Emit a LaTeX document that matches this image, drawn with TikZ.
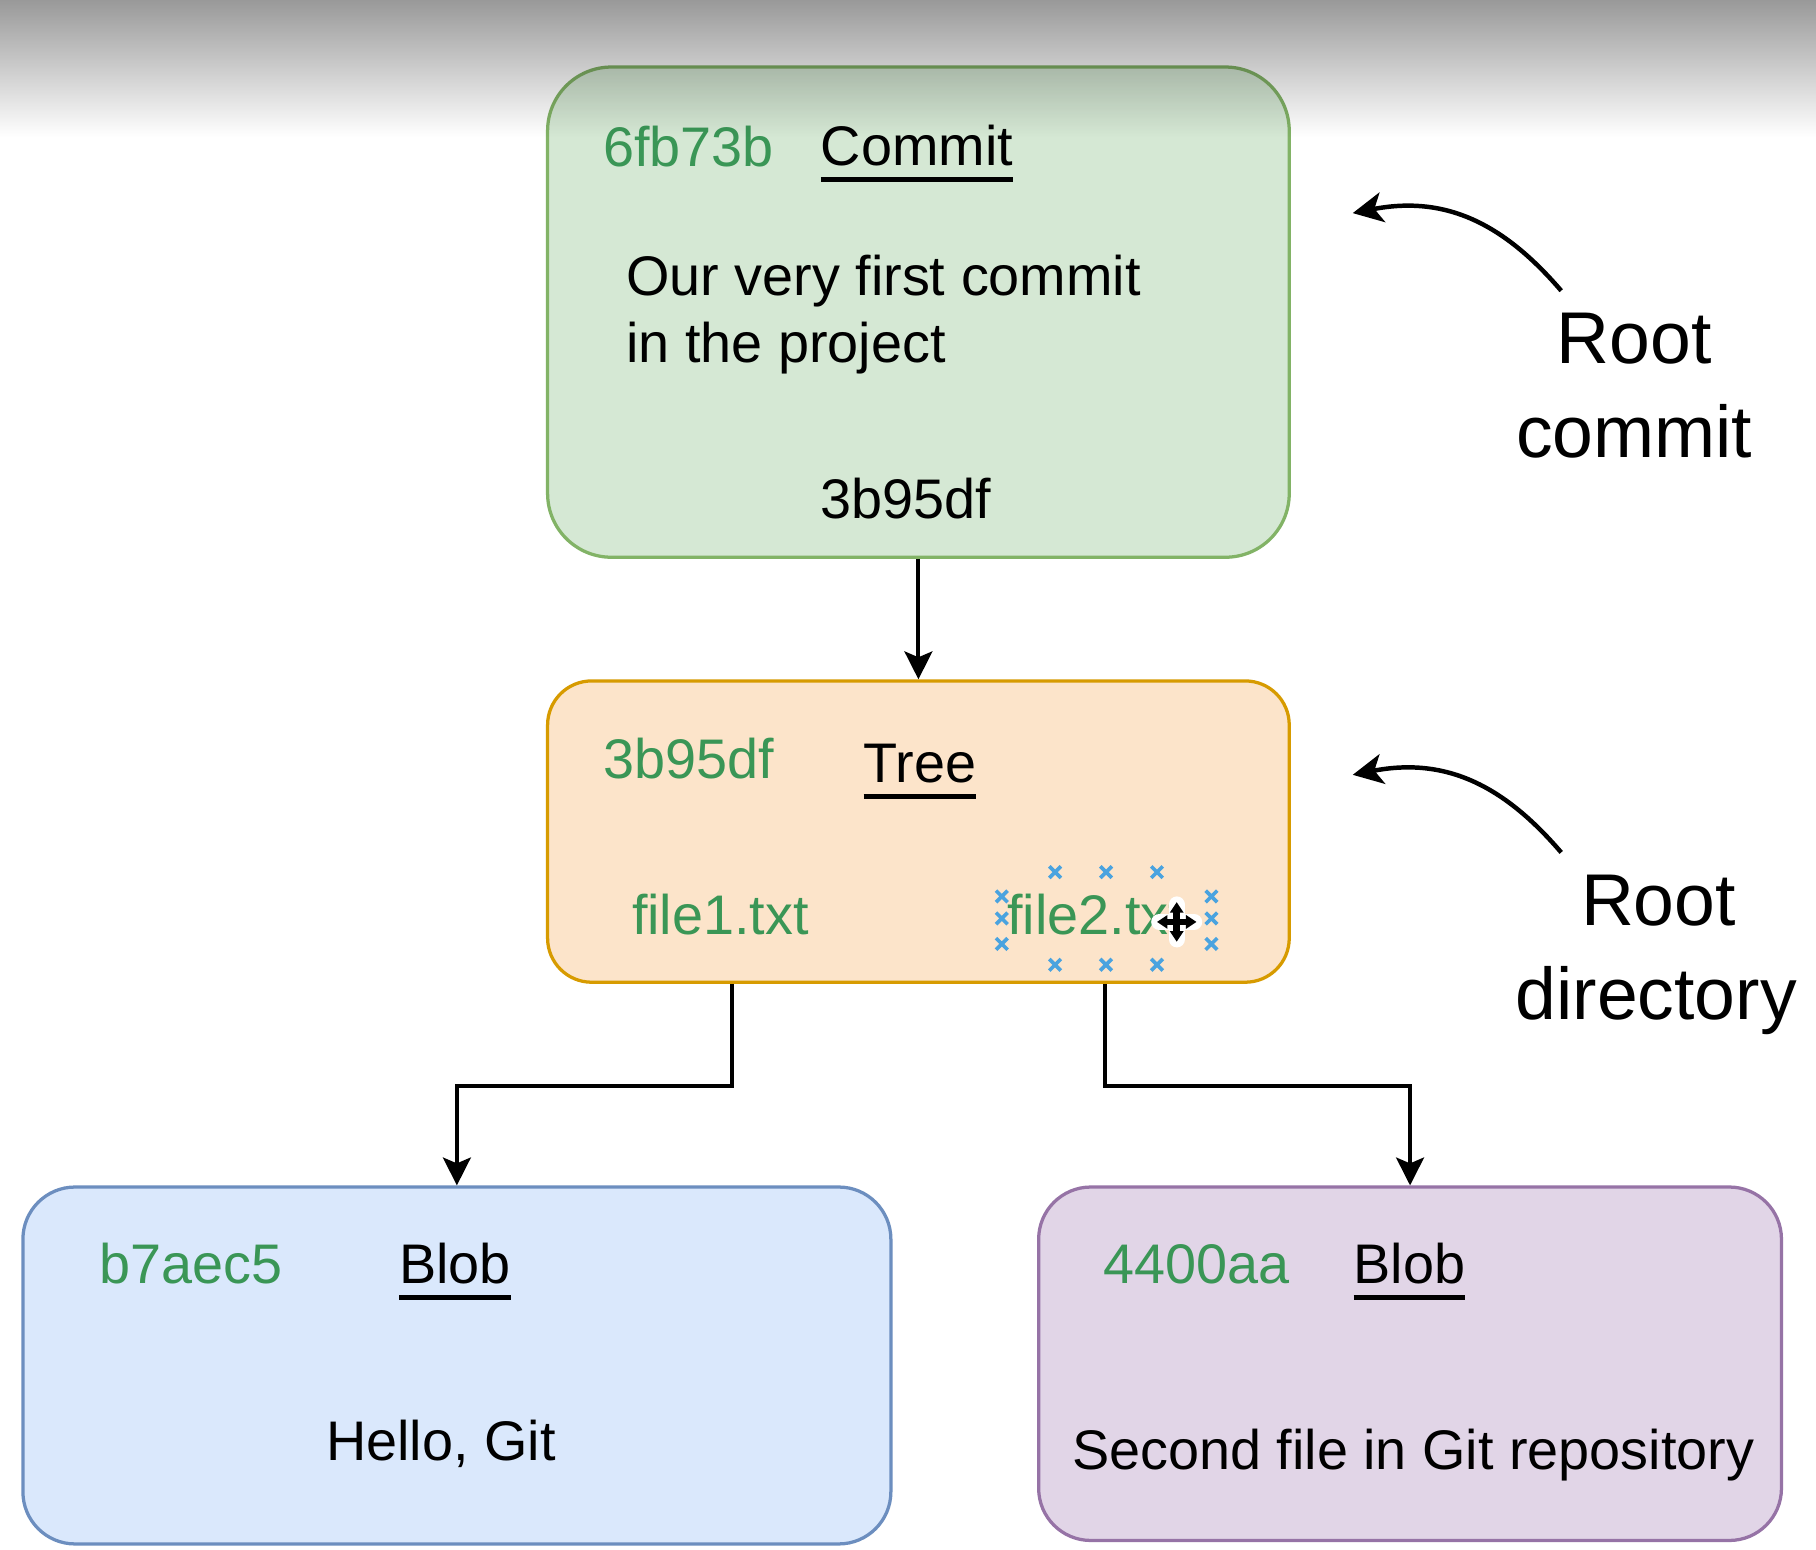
\documentclass[tikz,border=0pt]{standalone}
\usepackage{fontspec}
\setmainfont{Liberation Sans}
\usetikzlibrary{arrows.meta,calc,fadings}

\definecolor{CommitFill}{HTML}{D5E8D4}
\definecolor{CommitLine}{HTML}{82B366}
\definecolor{TreeFill}{HTML}{FCE4CA}
\definecolor{TreeLine}{HTML}{D79B00}
\definecolor{BlobAFill}{HTML}{DAE8FC}
\definecolor{BlobALine}{HTML}{6C8EBF}
\definecolor{BlobBFill}{HTML}{E1D5E7}
\definecolor{BlobBLine}{HTML}{9673A6}
\definecolor{HashGreen}{RGB}{58,150,86}
\definecolor{SelBlue}{RGB}{74,163,223}

\tikzfading[name=screenfade, top color=transparent!0, bottom color=transparent!100]

% underlined kind of object
\newcommand{\KindText}[1]{\setbox0\hbox{#1}\rlap{\rule[-4pt]{\wd0}{1.2pt}}\box0}

\begin{document}
\begin{tikzpicture}[x=0.01cm,y=-0.01cm,
    objbox/.style={draw, line width=0.8pt, inner sep=0pt},
    txt/.style={inner sep=0pt, anchor=base west, font=\fontsize{13.7}{16.5}\selectfont},
    hash/.style={txt, text=HashGreen},
    note/.style={inner sep=0pt, anchor=base, font=\fontsize{18}{23}\selectfont},
    link/.style={line width=1pt, -{Stealth[length=0.24cm,width=0.24cm,inset=0.05cm]}},
    pointer/.style={line width=1.1pt, -{Stealth[length=0.26cm,width=0.26cm,inset=0.07cm]}},
    selmark/.style={SelBlue, line width=0.9pt}]

\useasboundingbox (0,0) rectangle (1568,1338);
\fill[white] (0,0) rectangle (1568,1338);

% objets
\node[objbox, draw=CommitLine, fill=CommitFill, rounded corners=0.55cm,
      minimum width=6.40cm, minimum height=4.23cm] (commit) at (793,269.5) {};
\node[objbox, draw=TreeLine, fill=TreeFill, rounded corners=0.38cm,
      minimum width=6.40cm, minimum height=2.60cm] (tree) at (793,718) {};
\node[objbox, draw=BlobALine, fill=BlobAFill, rounded corners=0.45cm,
      minimum width=7.49cm, minimum height=3.08cm] (blobA) at (394.5,1179) {};
\node[objbox, draw=BlobBLine, fill=BlobBFill, rounded corners=0.45cm,
      minimum width=6.41cm, minimum height=3.05cm] (blobB) at (1217.5,1177.5) {};

% commit
\node[hash] (commitid) at (520,144) {6fb73b};
\node[txt] (commitkind) at (708,143) {\KindText{Commit}};
\node[txt] (msgA) at (540,255) {Our very first commit};
\node[txt] (msgB) at (540,313) {in the project};
\node[txt] (commitref) at (708,448) {3b95df};

% tree
\node[hash] (treeid) at (520,672) {3b95df};
\node[txt] (treekind) at (745,676) {\KindText{Tree}};
\node[hash] (fileA) at (545,807) {file1.txt};
\node[hash] (fileB) at (869,807) {file2.txt};

% blobs
\node[hash] (blobAid) at (85,1108) {b7aec5};
\node[txt] (blobAkind) at (344,1108) {\KindText{Blob}};
\node[txt] (blobAtext) at (281,1261) {Hello, Git};
\node[hash] (blobBid) at (952,1108) {4400aa};
\node[txt] (blobBkind) at (1168,1108) {\KindText{Blob}};
\node[txt] (blobBtext) at (925,1269) {Second file in Git repository};

% liens
\draw[link] (commit.south) -- (tree.north);
\coordinate (outA) at ($(tree.south west)!0.25!(tree.south east)$);
\coordinate (outB) at ($(tree.south west)!0.75!(tree.south east)$);
\draw[link] (outA) -- ++(0,88) -| (blobA.north);
\draw[link] (outB) -- ++(0,88) -| (blobB.north);

% remarques
\node[note] (rootA) at (1411,314) {Root};
\node[note] (commitA) at (1411,395) {commit};
\node[note] (rootB) at (1432,799) {Root};
\node[note] (dirB) at (1430,880) {directory};
\coordinate (fromA) at (1348,251);
\coordinate (toA) at (1168,184);
\coordinate (fromB) at (1348,736);
\coordinate (toB) at (1168,669);
\draw[pointer] (fromA) .. controls (1300,195) and (1250,168) .. (toA);
\draw[pointer] (fromB) .. controls (1300,680) and (1250,653) .. (toB);

% selection autour de file2.txt
\foreach \x/\y in {911/753,955/753,999/753,911/833,955/833,999/833,%
    865/774,865/793,865/815,1046/774,1046/793,1046/815}{
  \draw[selmark] (\x-5,\y-5) -- (\x+5,\y+5) (\x-5,\y+5) -- (\x+5,\y-5);
}
% curseur
\coordinate (cur) at (1016,796);
\begin{scope}[shift={(cur)}]
  \draw[white, line width=4pt, line cap=round] (0,-15) -- (0,15) (-15,0) -- (15,0);
  \draw[line width=1.6pt] (0,-10) -- (0,10) (-10,0) -- (10,0);
  \foreach \r in {0,90,180,270}{
    \fill[rotate=\r] (0,-17) -- (-6,-8) -- (6,-8) -- cycle;
  }
\end{scope}

% ombre en haut
\fill[black, opacity=0.4, path fading=screenfade] (0,0) rectangle (1568,118);
\end{tikzpicture}
\end{document}
